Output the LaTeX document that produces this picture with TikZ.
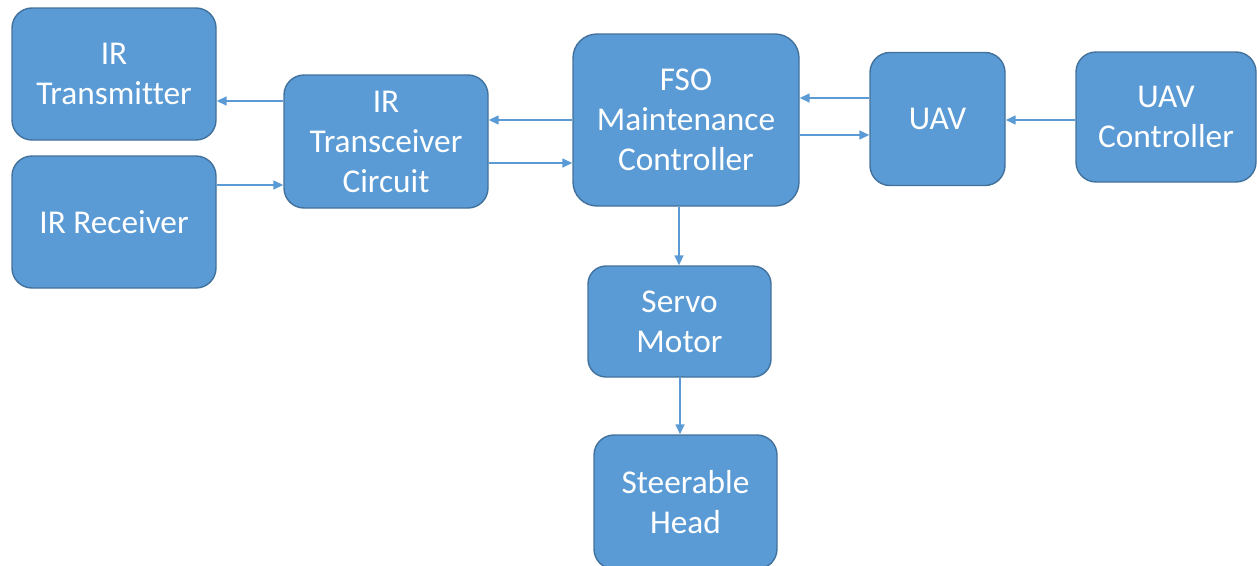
\documentclass[tikz,border=0pt]{standalone}
\usepackage{fontspec}
\setmainfont[Ligatures=NoCommon]{Carlito}
\usetikzlibrary{arrows.meta}
\definecolor{boxfill}{HTML}{5B9BD5}
\definecolor{boxline}{HTML}{41719C}
\definecolor{arrcol}{HTML}{5B9BD5}
\begin{document}
\begin{tikzpicture}[x=1pt,y=-1pt,
  blk/.style={draw=boxline, line width=1.4pt, fill=boxfill, rounded corners=20pt,
    text=white, align=center, inner sep=0pt,
    font=\fontsize{33.3}{40}\selectfont},
  arr/.style={draw=arrcol, line width=1.5pt, -{Triangle[length=10pt,width=9pt]}}]
\useasboundingbox (0,0) rectangle (1257,565);
\node[blk, minimum width=204pt, minimum height=132pt] (tx) at (114,74) {IR\\Transmitter};
\node[blk, minimum width=204pt, minimum height=132pt] (rx) at (114,222) {IR Receiver};
\node[blk, minimum width=204pt, minimum height=133pt] (trc) at (386,141.5) {IR\\Transceiver\\Circuit};
\node[blk, minimum width=226pt, minimum height=172pt, rounded corners=24pt] (fso) at (686,120) {FSO\\Maintenance\\Controller};
\node[blk, minimum width=135pt, minimum height=133pt] (uav) at (937.5,119) {UAV};
\node[blk, minimum width=180pt, minimum height=130pt] (uavc) at (1166,117) {UAV\\Controller};
\node[blk, minimum width=183pt, minimum height=111pt, rounded corners=18pt] (servo) at (679.5,321.5) {Servo\\Motor};
\node[blk, minimum width=183pt, minimum height=134pt] (head) at (685.5,502) {Steerable\\Head};
\draw[arr] (trc.west |- 0,101) -- (tx.east |- 0,101);
\draw[arr] (rx.east |- 0,185) -- (trc.west |- 0,185);
\draw[arr] (fso.west |- 0,120) -- (trc.east |- 0,120);
\draw[arr] (trc.east |- 0,163) -- (fso.west |- 0,163);
\draw[arr] (uav.west |- 0,98) -- (fso.east |- 0,98);
\draw[arr] (fso.east |- 0,135) -- (uav.west |- 0,135);
\draw[arr] (uavc.west |- 0,120) -- (uav.east |- 0,120);
\draw[arr] (fso.south -| 679,0) -- (servo.north -| 679,0);
\draw[arr] (servo.south -| 680,0) -- (head.north -| 680,0);
\end{tikzpicture}
\end{document}
